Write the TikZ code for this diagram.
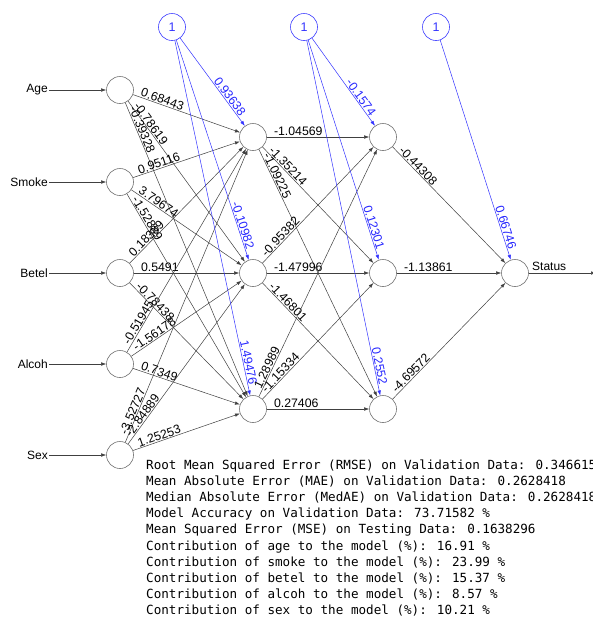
\documentclass[tikz,border=0pt]{standalone}
\usepackage{fontspec}
\setmainfont{Liberation Sans}
\newfontfamily\monofont{DejaVu Sans Mono}
\usetikzlibrary{arrows.meta,calc}
\begin{document}
\begin{tikzpicture}[x=1pt,y=-1pt,
  neuron/.style={circle,draw=black!55,fill=white,minimum size=27pt,inner sep=0pt,line width=0.6pt},
  biasnode/.style={circle,draw=blue!75,fill=white,minimum size=27pt,inner sep=0pt,text=blue!80,font=\fontsize{12.5}{14}\selectfont,line width=0.6pt},
  edge/.style={draw=black!75,line width=0.5pt,-{Latex[length=5pt,width=3.5pt]}},
  bedge/.style={draw=blue!80,line width=0.5pt,-{Latex[length=5pt,width=3.5pt]}},
  wlab/.style={sloped,anchor=south west,inner sep=0.8pt,font=\fontsize{12.3}{14}\selectfont,text=black},
  blab/.style={sloped,anchor=south east,inner sep=0.8pt,font=\fontsize{12.3}{14}\selectfont,text=blue!85},
  inlab/.style={anchor=east,inner sep=1pt,font=\fontsize{12}{14}\selectfont,text=black},
  stat/.style={anchor=base west,inner sep=0pt,font=\monofont\fontsize{12.6}{15}\selectfont,text=black},
  ]
\useasboundingbox (0,0) rectangle (593,619);
\clip (0,0) rectangle (593,619);
\fill[white] (0,0) rectangle (593,619);

% input layer
\node[neuron] (iAge) at (120,90) {};
\node[neuron] (iSmoke) at (120,182) {};
\node[neuron] (iBetel) at (120,273) {};
\node[neuron] (iAlcoh) at (120,364) {};
\node[neuron] (iSex) at (120,455) {};
% hidden 1
\node[neuron] (h1) at (253,137) {};
\node[neuron] (h2) at (253,273) {};
\node[neuron] (h3) at (253,409) {};
% hidden 2
\node[neuron] (g1) at (383,137) {};
\node[neuron] (g2) at (383,273) {};
\node[neuron] (g3) at (383,409) {};
% output
\node[neuron] (out) at (515,273) {};
% bias
\node[biasnode] (b1) at (172,27) {1};
\node[biasnode] (b2) at (304,27) {1};
\node[biasnode] (b3) at (436,27) {1};

% input labels
\node[inlab] (lAge) at (49,90) {Age};
\node[inlab] (lSmoke) at (49,182) {Smoke};
\node[inlab] (lBetel) at (49,273) {Betel};
\node[inlab] (lAlcoh) at (49,364) {Alcoh};
\node[inlab] (lSex) at (49,455) {Sex};
\foreach \n in {Age,Smoke,Betel,Alcoh,Sex}
  \draw[edge] (l\n.east) -- (i\n);

% output
\coordinate (oend) at (596,273);
\draw[edge] (out) -- (oend);
\node[anchor=south west,inner sep=1pt,font=\fontsize{12}{14}\selectfont,text=black] (lStatus) at (531,272) {Status};

% weighted edges
\foreach \a/\b/\w in {
  iAge/h1/0.68443, iAge/h2/-0.78619, iAge/h3/-0.39328,
  iSmoke/h1/0.95116, iSmoke/h2/3.79674, iSmoke/h3/-1.52889,
  iBetel/h1/0.18389, iBetel/h2/0.5491, iBetel/h3/-0.78438,
  iAlcoh/h1/-0.51945, iAlcoh/h2/-1.56178, iAlcoh/h3/0.7349,
  iSex/h1/-3.52727, iSex/h2/-2.84889, iSex/h3/1.25253,
  h1/g1/-1.04569, h1/g2/-1.35214, h1/g3/-1.09225,
  h2/g1/-0.95382, h2/g2/-1.47996, h2/g3/-1.46801,
  h3/g1/1.28989, h3/g2/-1.15334, h3/g3/0.27406,
  g1/out/-0.44308, g2/out/-1.13861, g3/out/-4.69572}
{
  \draw[edge] (\a) -- (\b);
  \path ($(\a)!20pt!(\b)$) -- (\b) node[pos=0,wlab] {\w};
}

% bias edges
\foreach \a/\b/\w in {
  b1/h1/0.93638, b1/h2/-0.10982, b1/h3/1.49476,
  b2/g1/-0.1574, b2/g2/0.12301, b2/g3/0.2552,
  b3/out/0.66746}
{
  \draw[bedge] (\a) -- (\b);
  \path (\a) -- ($(\b)!23pt!(\a)$) node[pos=1,blab] {\w};
}

% statistics text
\node[stat] (t1) at (146,469.5) {Root Mean Squared Error (RMSE) on Validation Data: 0.346615};
\node[stat] (t2) at (146,485.6) {Mean Absolute Error (MAE) on Validation Data: 0.2628418};
\node[stat] (t3) at (146,501.7) {Median Absolute Error (MedAE) on Validation Data: 0.2628418};
\node[stat] (t4) at (146,517.8) {Model Accuracy on Validation Data: 73.71582 \%};
\node[stat] (t5) at (146,533.9) {Mean Squared Error (MSE) on Testing Data: 0.1638296};
\node[stat] (t6) at (146,550.0) {Contribution of age to the model (\%): 16.91 \%};
\node[stat] (t7) at (146,566.1) {Contribution of smoke to the model (\%): 23.99 \%};
\node[stat] (t8) at (146,582.2) {Contribution of betel to the model (\%): 15.37 \%};
\node[stat] (t9) at (146,598.3) {Contribution of alcoh to the model (\%): 8.57 \%};
\node[stat] (t10) at (146,614.4) {Contribution of sex to the model (\%): 10.21 \%};
\end{tikzpicture}
\end{document}
